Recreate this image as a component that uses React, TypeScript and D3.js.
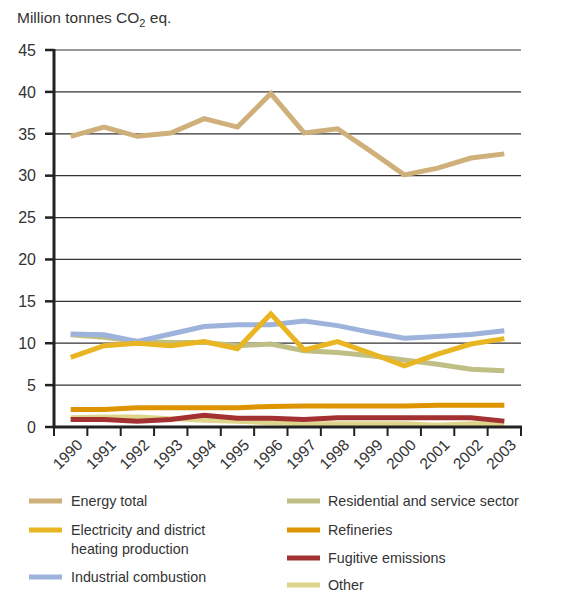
import React from "react";
import * as d3 from "d3";

const years = ["1990","1991","1992","1993","1994","1995","1996","1997","1998","1999","2000","2001","2002","2003"];
const yTicks = [0, 5, 10, 15, 20, 25, 30, 35, 40, 45];

const energyTotal = [34.7, 35.8, 34.7, 35.1, 36.8, 35.8, 39.8, 35.1, 35.6, 32.9, 30.1, 30.9, 32.1, 32.6];
const electricity = [8.3, 9.7, 10.0, 9.7, 10.2, 9.35, 13.5, 9.2, 10.2, 8.8, 7.3, 8.7, 9.9, 10.55];
const industrial = [11.1, 11.0, 10.2, 11.1, 12.0, 12.2, 12.2, 12.65, 12.1, 11.3, 10.6, 10.8, 11.05, 11.5];
const residential = [11.0, 10.7, 10.2, 10.1, 10.1, 9.7, 9.9, 9.1, 8.9, 8.5, 8.0, 7.5, 6.9, 6.7];
const refineries = [2.1, 2.1, 2.3, 2.3, 2.3, 2.3, 2.45, 2.5, 2.5, 2.5, 2.5, 2.6, 2.6, 2.6];
const fugitive = [0.9, 0.9, 0.7, 0.9, 1.4, 1.05, 1.05, 0.9, 1.1, 1.1, 1.1, 1.1, 1.1, 0.7];
const other = [1.1, 1.2, 1.2, 1.0, 0.8, 0.7, 0.5, 0.4, 0.4, 0.4, 0.4, 0.2, 0.4, 0.4];

const seriesNames = ["Energy total", "Electricity and district heating production", "Industrial combustion", "Residential and service sector", "Refineries", "Fugitive emissions", "Other"];
const seriesColors = ["#cfb07a", "#e9b522", "#9db3dc", "#bfbf85", "#de9300", "#a33131", "#ddd68a"];
const seriesValues = [energyTotal, electricity, industrial, residential, refineries, fugitive, other];
// draw order: back to front
const drawOrder = [6, 5, 4, 3, 2, 1, 0];

const W = 572, H = 592;
const left = 54, right = 521, top = 50, bottom = 427;
const font = "'Liberation Sans', Arial, sans-serif";
const textColor = "#333";

export default function App() {
  const x = d3.scaleBand<string>().domain(years).range([left, right]);
  const y = d3.scaleLinear().domain([0, 45]).range([bottom, top]);
  const line = d3.line<number>()
    .x((_, i) => (x(years[i]) as number) + x.bandwidth() / 2)
    .y((d) => y(d));

  const legendLeft = [
    { idx: 0, y: 501, lines: ["Energy total"] },
    { idx: 1, y: 530, lines: ["Electricity and district", "heating production"] },
    { idx: 2, y: 577, lines: ["Industrial combustion"] },
  ];
  const legendRight = [
    { idx: 3, y: 501, lines: ["Residential and service sector"] },
    { idx: 4, y: 530, lines: ["Refineries"] },
    { idx: 5, y: 558, lines: ["Fugitive emissions"] },
    { idx: 6, y: 585, lines: ["Other"] },
  ];

  const tickXs = years.map((yr) => x(yr) as number).concat([right]);

  return (
    <svg width={W} height={H} style={{ position: "absolute", left: 0, top: 0, background: "#fff" }} fontFamily={font}>
      <text x={17} y={23} fontSize={15.5} fill={textColor}>
        Million tonnes CO<tspan fontSize={11} dy={4}>2</tspan><tspan dy={-4}> eq.</tspan>
      </text>
      {yTicks.map((t) => (
        <g key={t}>
          {t > 0 && <line x1={left} x2={right} y1={y(t)} y2={y(t)} stroke="#333" strokeWidth={1.2} />}
          <line x1={45} x2={left} y1={y(t)} y2={y(t)} stroke="#222" strokeWidth={2.5} />
          <text x={36} y={y(t)} dy="0.36em" textAnchor="end" fontSize={16} fill={textColor}>{t}</text>
        </g>
      ))}
      {drawOrder.map((i) => (
        <path key={i} d={line(seriesValues[i]) as string} fill="none" stroke={seriesColors[i]} strokeWidth={5} strokeLinejoin="miter" />
      ))}
      <line x1={left} x2={left} y1={top - 1} y2={bottom + 1} stroke="#222" strokeWidth={3} />
      <line x1={left - 1} x2={right + 1} y1={bottom} y2={bottom} stroke="#222" strokeWidth={3} />
      {tickXs.map((tx, i) => (
        <line key={i} x1={tx} x2={tx} y1={bottom} y2={bottom + 9} stroke="#222" strokeWidth={2} />
      ))}
      {years.map((yr) => {
        const cx = (x(yr) as number) + x.bandwidth() / 2 + 5;
        const cy = 438;
        return (
          <text key={yr} x={cx} y={cy} transform={`rotate(-45 ${cx} ${cy})`} textAnchor="end" dy="0.72em" fontSize={15.5} fill={textColor}>{yr}</text>
        );
      })}
      {[...legendLeft.map((l) => ({ ...l, sx: 29, tx: 71 })), ...legendRight.map((l) => ({ ...l, sx: 287, tx: 328 }))].map((l) => (
        <g key={l.idx}>
          <line x1={l.sx} x2={l.sx + 33} y1={l.y} y2={l.y} stroke={seriesColors[l.idx]} strokeWidth={5} />
          {l.lines.map((s, j) => (
            <text key={j} x={l.tx} y={l.y + j * 19} dy="0.36em" fontSize={14.3} fill={textColor}>{s}</text>
          ))}
        </g>
      ))}
    </svg>
  );
}
